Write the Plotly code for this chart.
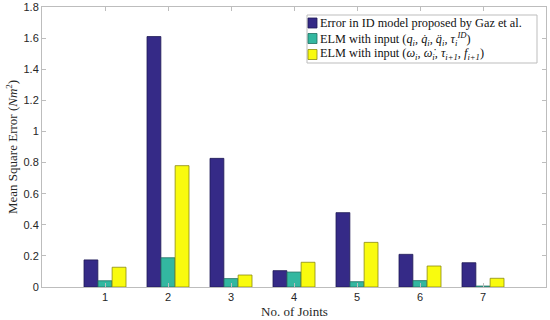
import plotly.graph_objects as go

joints = [1, 2, 3, 4, 5, 6, 7]
id_model = [0.174, 1.61, 0.827, 0.105, 0.478, 0.21, 0.156]
elm_q = [0.04, 0.188, 0.054, 0.096, 0.034, 0.041, 0.006]
elm_w = [0.127, 0.78, 0.077, 0.159, 0.287, 0.135, 0.056]

names = [
    "Error in ID model proposed by Gaz et al.",
    "ELM with input (<i>q<sub>i</sub></i>, <i>q̇<sub>i</sub></i>, <i>q̈<sub>i</sub></i>, <i>τ<sub>i</sub><sup>ID</sup></i>)",
    "ELM with input (<i>ω<sub>i</sub></i>, <i>ω̇<sub>i</sub></i>, <i>τ<sub>i+1</sub></i>, <i>f<sub>i+1</sub></i>)",
]
colors = ["#352A87", "#33B7A0", "#F9FB0E"]
edges = ["#1f1a55", "#1f6e60", "#8a8a10"]

L, R, T, B, W, H = 42, 4, 7, 33, 550, 320
PW, PH = W - L - R, H - T - B


def px(x):
    return (x - L) / PW


def py(y):
    return (H - B - y) / PH


fig = go.Figure()
for vals, nm, c, e in zip([id_model, elm_q, elm_w], names, colors, edges):
    fig.add_trace(go.Bar(x=joints, y=vals, name=nm, showlegend=False,
                         marker=dict(color=c, line=dict(color=e, width=0.8)), width=0.22))

shapes = [dict(type="rect", xref="paper", yref="paper", x0=px(307), x1=px(537), y0=py(63), y1=py(15),
               line=dict(color="#bdbdbd", width=1), fillcolor="white", layer="above")]
annotations = []
rows = [23, 38.5, 54.5]
for yc, nm, c, e in zip(rows, names, colors, edges):
    shapes.append(dict(type="rect", xref="paper", yref="paper", x0=px(308), x1=px(317),
                       y0=py(yc + 5), y1=py(yc - 5), fillcolor=c, line=dict(color=e, width=0.8), layer="above"))
    annotations.append(dict(xref="paper", yref="paper", x=px(318), y=py(yc), xanchor="left", yanchor="middle",
                            text=nm, showarrow=False,
                            font=dict(family="Liberation Serif", size=12.3, color="#111")))

annotations.append(dict(xref="paper", yref="paper", x=0.5, y=py(311), xanchor="center", yanchor="middle",
                        text="No. of Joints", showarrow=False,
                        font=dict(family="Liberation Serif", size=13, color="#262626")))
annotations.append(dict(xref="paper", yref="paper", x=px(12), y=0.5, xanchor="center", yanchor="middle",
                        text="Mean Square Error (<i>Nm</i><sup>2</sup>)", showarrow=False, textangle=-90,
                        font=dict(family="Liberation Serif", size=13, color="#262626")))

fig.update_layout(
    width=W, height=H,
    margin=dict(l=L, r=R, t=T, b=B, autoexpand=False),
    barmode="group", bargap=0.33, bargroupgap=0,
    plot_bgcolor="white", paper_bgcolor="white",
    font=dict(family="Liberation Sans", size=11, color="#262626"),
    showlegend=False,
    shapes=shapes, annotations=annotations,
)
fig.update_xaxes(range=[0, 8], tickvals=joints, ticktext=[str(j) for j in joints],
                 ticks="inside", ticklen=4, tickcolor="#bdbdbd", automargin=False,
                 showline=True, linecolor="#bdbdbd", linewidth=1, mirror="ticks",
                 showgrid=False, zeroline=False)
fig.update_yaxes(range=[0, 1.8], dtick=0.2, tick0=0, automargin=False,
                 ticks="inside", ticklen=4, tickcolor="#bdbdbd",
                 showline=True, linecolor="#bdbdbd", linewidth=1, mirror="ticks",
                 showgrid=False, zeroline=False)

fig.write_html("out.html", config={"displayModeBar": False},
               post_script="document.body.style.margin='0';document.body.style.overflow='hidden';")
